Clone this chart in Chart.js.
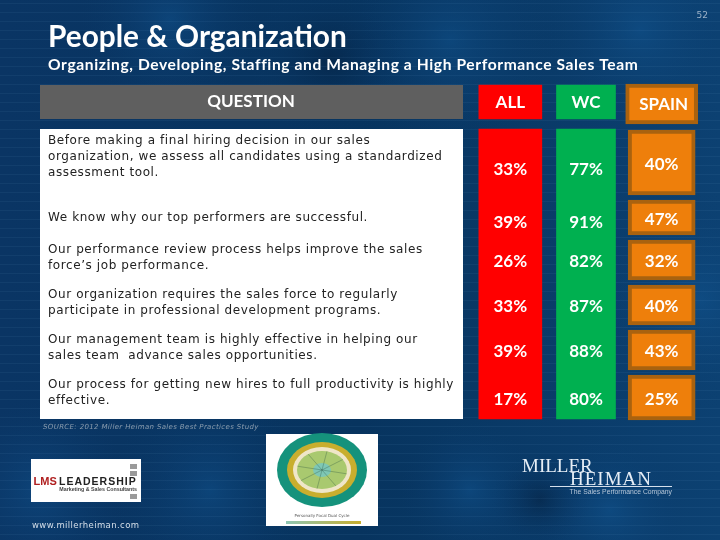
<!DOCTYPE html>
<html>
<head>
<meta charset="utf-8">
<title>People & Organization</title>
<style>
  html, body { margin: 0; padding: 0; background: #0a3a6c; }
  canvas { display: block; }
</style>
</head>
<body>
<canvas id="tabela" width="720" height="540"></canvas>
<script src="https://cdn.jsdelivr.net/npm/chart.js@4"></script>
<script>
const columns = ['ALL', 'WC', 'SPAIN'];
const allValues = [33, 39, 26, 33, 39, 17];
const wcValues = [77, 91, 82, 87, 88, 80];
const spainValues = [40, 47, 32, 40, 43, 25];
const questions = [
    ['Before making a final hiring decision in our sales', 'organization, we assess all candidates using a standardized', 'assessment tool.'],
    ['We know why our top performers are successful.'],
    ['Our performance review process helps improve the sales', 'force\u2019s job performance.'],
    ['Our organization requires the sales force to regularly', 'participate in professional development programs.'],
    ['Our management team is highly effective in helping our', 'sales team  advance sales opportunities.'],
    ['Our process for getting new hires to full productivity is highly', 'effective.']
];

// row heights in units of the y scale, one unit gap between rows
const rowSpans = [13, 7, 8, 8, 8, 9];
const rowGap = 1;
const questionY = [140.5, 218, 250, 295, 340, 385];
const valueNudge = [5, 3, 0, 0, 0, 0]; // ALL and WC text sits a bit lower than the SPAIN box centre on top rows

const RED = '#ff0000', GREEN = '#00b050', ORANGE = '#ee7f0b', ORANGE_DARK = '#a9620f';

const rowStart = [];
let pos = 0;
rowSpans.forEach(s => { rowStart.push(pos); pos += s + rowGap; });
const yTotal = pos - rowGap;
const rowMid = rowStart.map((s, i) => s + rowSpans[i] / 2);

function cell(col, from, to) {
    return columns.map((c, i) => (i === col ? [from, to] : null));
}
function barSet(col, from, to, color, thick, border, borderColor) {
    return {
        data: cell(col, from, to),
        backgroundColor: color,
        borderColor: borderColor || color,
        borderWidth: border || 0,
        borderSkipped: false,
        barThickness: thick,
        grouped: false,
        clip: false
    };
}

const datasets = [
    barSet(0, -9, -2.2, RED, 63),
    barSet(1, -9, -2.2, GREEN, 59),
    barSet(2, -9.2, -1.2, ORANGE, 72, 4, ORANGE_DARK),
    barSet(0, -0.2, yTotal - 0.2, RED, 63),
    barSet(1, -0.2, yTotal - 0.2, GREEN, 59)
];
rowSpans.forEach((s, i) => {
    datasets.push(barSet(2, rowStart[i], rowStart[i] + s, ORANGE, 67, 4, ORANGE_DARK));
});

function text(c, str, x, y, font, color, align, spacing) {
    c.font = font;
    c.fillStyle = color;
    c.textAlign = align || 'left';
    c.textBaseline = 'middle';
    c.letterSpacing = spacing || '0px';
    c.fillText(str, x, y);
    c.letterSpacing = '0px';
}

function blob(c, x, y, r, color) {
    const g = c.createRadialGradient(x, y, 0, x, y, r);
    g.addColorStop(0, color);
    g.addColorStop(1, 'rgba(10,58,108,0)');
    c.fillStyle = g;
    c.fillRect(x - r, y - r, r * 2, r * 2);
}

const slide = {
    id: 'slide',
    beforeDraw(chart) {
        const c = chart.ctx;
        c.save();
        const bg = c.createLinearGradient(0, 0, 720, 0);
        bg.addColorStop(0, '#0a3564');
        bg.addColorStop(0.5, '#07345f');
        bg.addColorStop(1, '#0c4172');
        c.fillStyle = bg;
        c.fillRect(0, 0, 720, 540);
        [[40, 490, 90], [210, 490, 100], [170, 20, 90], [450, 40, 110], [640, 30, 100],
         [700, 300, 110], [610, 510, 80], [470, 490, 70]].forEach(b => {
            blob(c, b[0], b[1], b[2], 'rgba(18,88,150,0.45)');
        });
        blob(c, 330, 60, 80, 'rgba(4,30,60,0.5)');
        blob(c, 540, 500, 50, 'rgba(4,30,60,0.5)');
        c.fillStyle = 'rgba(130,180,225,0.07)';
        for (let y = 3; y < 540; y += 9) c.fillRect(0, y, 720, 1);

        text(c, '52', 708, 16, '9px "DejaVu Sans"', '#9db2c8', 'right');
        text(c, 'People & Organization', 48, 37, 'bold 29.8px Lato', '#ffffff');
        text(c, 'Organizing, Developing, Staffing and Managing a High Performance Sales Team', 48, 65, 'bold 15.6px Lato', '#ffffff', 'left', '0.6px');

        // question column
        c.fillStyle = '#5f5f5f';
        c.fillRect(40, 85, 423, 34);
        c.fillStyle = '#ffffff';
        c.fillRect(40, 129, 423, 290);
        text(c, 'QUESTION', 251, 102, 'bold 17px Lato', '#ffffff', 'center');
        questions.forEach((lines, i) => {
            lines.forEach((l, j) => {
                text(c, l, 48, questionY[i] + j * 16, '12px "DejaVu Sans"', '#222222', 'left', '0.59px');
            });
        });

        text(c, 'SOURCE: 2012 Miller Heiman Sales Best Practices Study', 43, 427, 'italic 7px "DejaVu Sans"', '#8a9cae', 'left', '0.35px');
        text(c, 'www.millerheiman.com', 32, 526, '8.5px "DejaVu Sans"', '#d5dfe9', 'left', '0.4px');

        // LMS logo
        c.fillStyle = '#ffffff';
        c.fillRect(31, 459, 110, 43);
        c.fillStyle = '#9a9a9a';
        [464, 471, 494].forEach(y => c.fillRect(130, y, 7, 5));
        text(c, 'LMS', 33.5, 482, 'bold 11px "Liberation Sans"', '#b02020');
        text(c, 'LEADERSHIP', 59, 482, 'bold 10.5px "Liberation Sans"', '#222222', 'left', '1px');
        text(c, 'Marketing & Sales Consultants', 137, 489.5, 'bold 5.3px "Liberation Sans"', '#444444', 'right');

        // wheel picture
        c.fillStyle = '#ffffff';
        c.fillRect(266, 434, 112, 92);
        [[45, 37, '#15927c'], [35, 28, '#c8ae2e'], [29, 23, '#efe6c8'], [25, 19, '#a9c96f'], [9, 7, '#7ec7b5']].forEach(r => {
            c.fillStyle = r[2];
            c.beginPath();
            c.ellipse(322, 470, r[0], r[1], 0, 0, Math.PI * 2);
            c.fill();
        });
        c.strokeStyle = 'rgba(40,80,60,0.55)';
        c.lineWidth = 0.6;
        for (let a = 0; a < 4; a++) {
            const t = a * Math.PI / 4 + 0.2;
            c.beginPath();
            c.moveTo(322 - 25 * Math.cos(t), 470 - 19 * Math.sin(t));
            c.lineTo(322 + 25 * Math.cos(t), 470 + 19 * Math.sin(t));
            c.stroke();
        }
        const strip = c.createLinearGradient(286, 0, 361, 0);
        strip.addColorStop(0, '#8fc6b4');
        strip.addColorStop(1, '#c8ae2e');
        c.fillStyle = strip;
        c.fillRect(286, 521, 75, 3);
        text(c, 'Personally Focal Dual Cycle', 322, 516, '4px "DejaVu Sans"', '#555555', 'center');

        // Miller Heiman logo
        text(c, 'MILLER', 522, 467, '19px "Liberation Serif"', '#e6eef6');
        text(c, 'HEIMAN', 570, 480, '19px "Liberation Serif"', '#e6eef6', 'left', '1px');
        c.fillStyle = '#d5e0ec';
        c.fillRect(550, 486, 122, 1);
        text(c, 'The Sales Performance Company', 672, 492, '6.8px "Liberation Sans"', '#b5c6d8', 'right');
        c.restore();
    },
    afterDatasetsDraw(chart) {
        const c = chart.ctx;
        const x = chart.scales.x, y = chart.scales.y;
        c.save();
        columns.forEach((name, i) => {
            const off = i === 2 ? 2 : 0;
            text(c, name, x.getPixelForValue(i) + off, i === 2 ? 105 : 103, 'bold 17px Lato', '#ffffff', 'center');
        });
        [allValues, wcValues, spainValues].forEach((vals, col) => {
            vals.forEach((v, r) => {
                const nudge = col < 2 ? valueNudge[r] : 0;
                text(c, v + '%', x.getPixelForValue(col), y.getPixelForValue(rowMid[r]) + nudge + 2, 'bold 17px Lato', '#ffffff', 'center');
            });
        });
        c.restore();
    }
};

new Chart(document.getElementById('tabela'), {
    type: 'bar',
    data: { labels: columns, datasets: datasets },
    plugins: [slide],
    options: {
        responsive: false,
        animation: false,
        layout: { padding: { left: 472.5, right: 20.5, top: 130, bottom: 120 } },
        plugins: { legend: { display: false }, tooltip: { enabled: false } },
        scales: {
            x: { display: false },
            y: { display: false, reverse: true, min: 0, max: yTotal }
        }
    }
});
</script>
</body>
</html>
